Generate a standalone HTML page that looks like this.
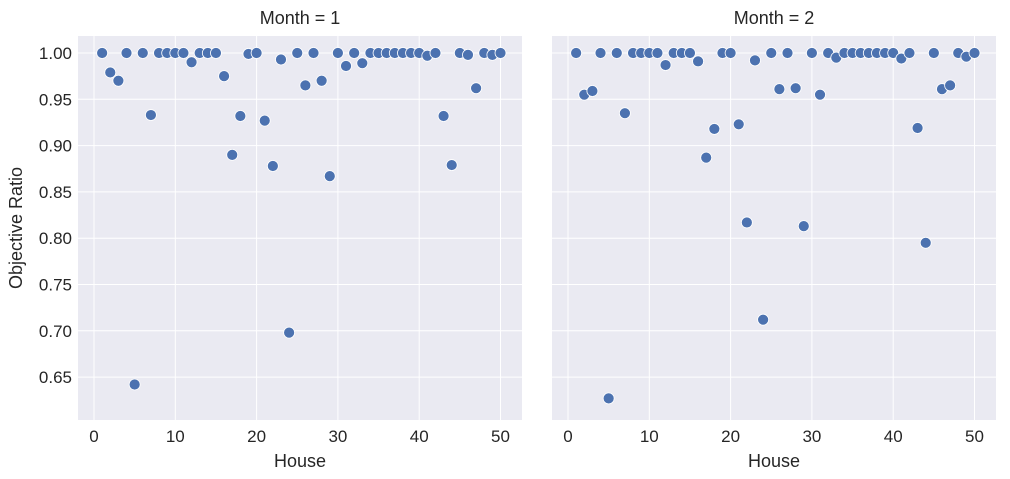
<!DOCTYPE html>
<html><head><meta charset="utf-8"><style>
body{margin:0;background:#fff;}
svg{display:block;font-family:"Liberation Sans","DejaVu Sans",sans-serif;}
</style></head><body>
<svg id="c" width="1010" height="479"></svg>
<script>
const houses=[];for(let i=1;i<=50;i++)houses.push(i);
const month1=[1.0,0.979,0.970,1.0,0.642,1.0,0.933,1.0,1.0,1.0,1.0,0.990,1.0,1.0,1.0,0.975,0.890,0.932,0.999,1.0,0.927,0.878,0.993,0.698,1.0,0.965,1.0,0.970,0.867,1.0,0.986,1.0,0.989,1.0,1.0,1.0,1.0,1.0,1.0,1.0,0.997,1.0,0.932,0.879,1.0,0.998,0.962,1.0,0.998,1.0];
const month2=[1.0,0.955,0.959,1.0,0.627,1.0,0.935,1.0,1.0,1.0,1.0,0.987,1.0,1.0,1.0,0.991,0.887,0.918,1.0,1.0,0.923,0.817,0.992,0.712,1.0,0.961,1.0,0.962,0.813,1.0,0.955,1.0,0.995,1.0,1.0,1.0,1.0,1.0,1.0,1.0,0.994,1.0,0.919,0.795,1.0,0.961,0.965,1.0,0.996,1.0];
const xTicks=[0,10,20,30,40,50];
const yTicks=[0.65,0.70,0.75,0.80,0.85,0.90,0.95,1.00];
const panels=[{title:"Month = 1",left:78,data:month1},{title:"Month = 2",left:552,data:month2}];
const NS="http://www.w3.org/2000/svg",svg=document.getElementById('c');
function mk(t,a,p){const e=document.createElementNS(NS,t);for(const k in a)e.setAttribute(k,a[k]);(p||svg).appendChild(e);return e;}
const W=444,topY=36,H=384;
const yS=v=>53+(1.0-v)*926;
panels.forEach((p,pi)=>{
  const xS=v=>p.left+16+v*8.13;
  const g=mk('g',{});
  
  
  const bg=mk('rect',{x:p.left,y:topY,width:W,height:H,fill:'#eaeaf2'},g);
  
  
  xTicks.forEach(t=>{
    const l=mk('line',{x1:xS(t),x2:xS(t),y1:topY,y2:topY+H,stroke:'#fff','stroke-width':1},g);
    
    
    const tx=mk('text',{x:xS(t),y:442,'text-anchor':'middle','font-size':17,fill:'#262626'},g);
    tx.textContent=t;
    
    
  });
  yTicks.forEach(t=>{
    const l=mk('line',{x1:p.left,x2:p.left+W,y1:yS(t),y2:yS(t),stroke:'#fff','stroke-width':1},g);
    
    
    if(pi===0){
      const tx=mk('text',{x:p.left-6,y:yS(t)+6,'text-anchor':'end','font-size':17,fill:'#262626'},g);
      tx.textContent=t.toFixed(2);
      
      
    }
  });
  p.data.forEach((v,i)=>{
    const c=mk('circle',{cx:xS(houses[i]),cy:yS(v),r:5.5,fill:'#4c72b0',stroke:'#fff','stroke-width':0.8},g);
    
    
  });
  const tt=mk('text',{x:p.left+W/2,y:24,'text-anchor':'middle','font-size':18,fill:'#262626'},g);
  tt.textContent=p.title;
  
  
  const xl=mk('text',{x:p.left+W/2,y:467,'text-anchor':'middle','font-size':18,fill:'#262626'},g);
  xl.textContent='House';
  
  
});
const yl=mk('text',{x:22,y:228,'text-anchor':'middle','font-size':18,fill:'#262626',transform:'rotate(-90 22 228)'});
yl.textContent='Objective Ratio';


</script>
</body></html>
